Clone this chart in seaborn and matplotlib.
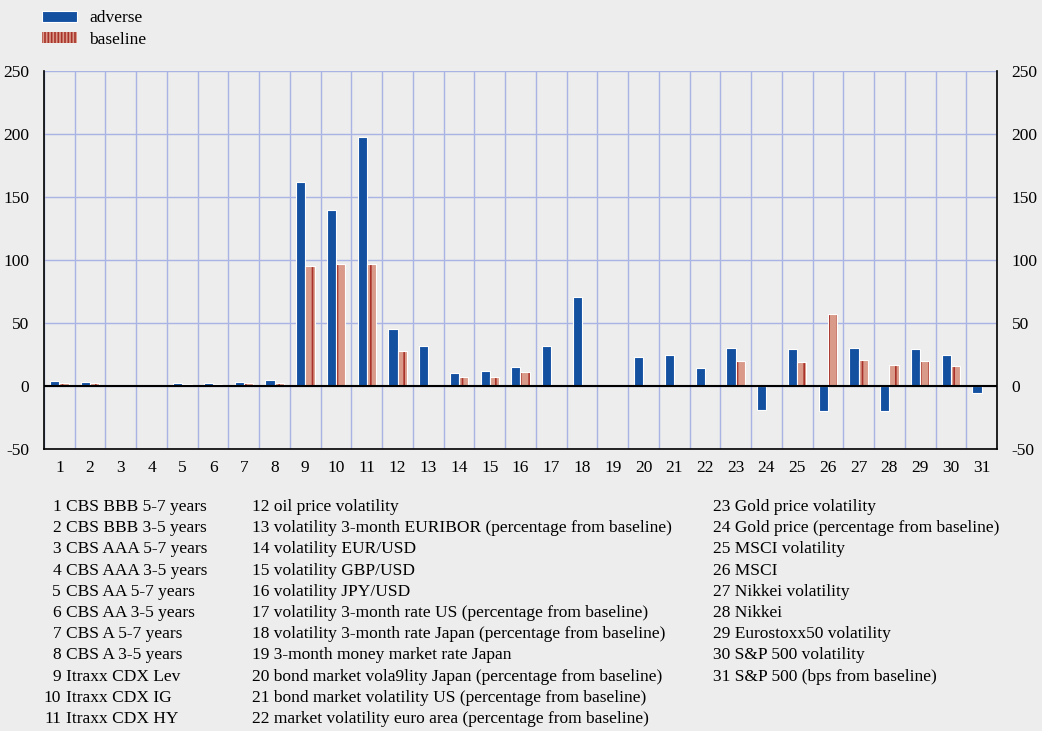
import numpy as np
import pandas as pd
import matplotlib
matplotlib.use('Agg')
import matplotlib.pyplot as plt
import matplotlib.colors as mcolors
from matplotlib.patches import Patch
from matplotlib.ticker import FixedLocator, MultipleLocator
import seaborn as sns

items = [str(i) for i in range(1, 32)]
adverse = [4, 3.5, 1, 0.8, 2, 2.5, 3.5, 4.5, 162, 140, 198, 45, 32, 10.5, 12, 15,
           31.5, 71, 0, 23, 25, 14, 30, -19, 29.5, -19.5, 30, -19.5, 29.5, 24.5, -5.3]
baseline = [2.5, 2, 0.5, 0.3, 1.5, 1.2, 2.5, 2, 95, 97, 97, 27.5, 0, 7, 7, 11,
            0, 0, 0.5, 0, 0, 0, 20, 0, 19, 57.5, 20.5, 17, 20, 16, 0]

names = [
    "CBS BBB 5-7 years", "CBS BBB 3-5 years", "CBS AAA 5-7 years", "CBS AAA 3-5 years",
    "CBS AA 5-7 years", "CBS AA 3-5 years", "CBS A 5-7 years", "CBS A 3-5 years",
    "Itraxx CDX Lev", "Itraxx CDX IG", "Itraxx CDX HY",
    "oil price volatility", "volatility 3-month EURIBOR (percentage from baseline)",
    "volatility EUR/USD", "volatility GBP/USD", "volatility JPY/USD",
    "volatility 3-month rate US (percentage from baseline)",
    "volatility 3-month rate Japan (percentage from baseline)",
    "3-month money market rate Japan",
    "bond market vola9lity Japan (percentage from baseline)",
    "bond market volatility US (percentage from baseline)",
    "market volatility euro area (percentage from baseline)",
    "Gold price volatility", "Gold price (percentage from baseline)", "MSCI volatility",
    "MSCI", "Nikkei volatility", "Nikkei", "Eurostoxx50 volatility",
    "S&P 500 volatility", "S&P 500 (bps from baseline)",
]

blue = '#1450a0'
salmon = '#d99a8a'
darkred = '#a8322a'
bg = '#ecedec'
grid_c = '#aab4e4'

df = pd.DataFrame({
    'item': items * 2,
    'value': adverse + baseline,
    'scenario': ['adverse'] * 31 + ['baseline'] * 31,
})

sns.set_style('white')
plt.rcParams['font.family'] = ['Liberation Serif', 'DejaVu Serif']
plt.rcParams['hatch.linewidth'] = 1.2
plt.rcParams['axes.unicode_minus'] = False
plt.rcParams['text.color'] = 'black'
plt.rcParams['xtick.color'] = 'black'
plt.rcParams['ytick.color'] = 'black'

fig = plt.figure(figsize=(10.42, 7.31), dpi=100, facecolor=bg)
ax = fig.add_axes([44 / 1042, 1 - 449 / 731, (997 - 44) / 1042, (449 - 71) / 731])
ax.set_facecolor(bg)

sns.barplot(data=df, x='item', y='value', hue='scenario', order=items,
            palette=[blue, salmon], width=0.6, saturation=1, ax=ax,
            legend=False, errorbar=None, zorder=3)

for p in ax.containers[0]:
    p.set_edgecolor('white')
    p.set_linewidth(0.8)
for p in ax.containers[1]:
    p.set_hatch('||')
    p.set_edgecolor('white')
    p.set_linewidth(0.8)
    # keep the stripes dark red while the outline stays white
    p._hatch_color = mcolors.to_rgba(darkred)

ax.set_xlim(-0.5, 30.5)
ax.set_ylim(-50, 250)
ax.yaxis.set_major_locator(MultipleLocator(50))
ax.xaxis.set_minor_locator(FixedLocator(np.arange(-0.5, 31, 1)))
ax.grid(which='minor', axis='x', color=grid_c, lw=1, zorder=0)
ax.grid(which='major', axis='y', color=grid_c, lw=1, zorder=0)
ax.set_axisbelow(True)
ax.axhline(0, color='black', lw=1.5, zorder=4)

for side in ['left', 'right', 'bottom']:
    ax.spines[side].set_color('black')
    ax.spines[side].set_linewidth(1.2)
ax.spines['top'].set_visible(False)

ax.tick_params(axis='y', which='both', left=False, right=False, labelleft=True,
               labelright=True, labelsize=12.5, pad=7, labelcolor='black')
ax.tick_params(axis='x', which='major', length=0, labelsize=12.5, pad=8, labelcolor='black')
ax.tick_params(axis='x', which='minor', length=5, width=1.2, direction='out', color='black')
ax.set_xlabel('')
ax.set_ylabel('')

handles = [Patch(facecolor=blue, edgecolor='white', lw=0.8, label='adverse'),
           Patch(facecolor=salmon, edgecolor=darkred, lw=0, hatch='|||||', label='baseline')]
fig.legend(handles=handles, loc='upper left', bbox_to_anchor=(32 / 1042, 1.0),
           frameon=False, fontsize=12.5, handlelength=2.0, handleheight=0.55,
           handletextpad=0.7, labelspacing=0.3, borderaxespad=0.2)

cols = [(0, 11), (11, 22), (22, 31)]
col_x = [61, 252, 713]
row_y0 = 507
row_dy = 21.2
for c, (start, stop) in enumerate(cols):
    for k, i in enumerate(range(start, stop)):
        y = 1 - (row_y0 + k * row_dy) / 731
        if c == 0:
            fig.text(col_x[c] / 1042, y, str(i + 1), ha='right', va='center', fontsize=12.5)
            fig.text((col_x[c] + 5) / 1042, y, names[i], ha='left', va='center', fontsize=12.5)
        else:
            fig.text(col_x[c] / 1042, y, f"{i + 1} {names[i]}", ha='left', va='center',
                     fontsize=12.5)

fig.savefig('out.png', dpi=100, facecolor=bg)
